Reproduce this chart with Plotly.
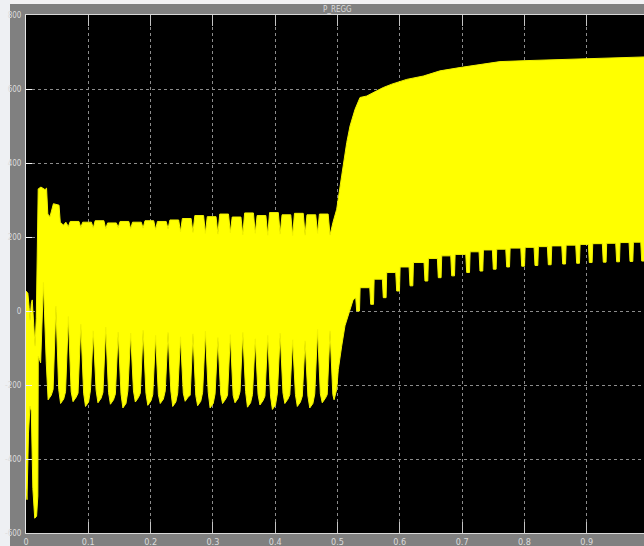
import plotly.graph_objects as go

TITLE = "P_REGG"

# axis ticks
x_ticks = [0, 0.1, 0.2, 0.3, 0.4, 0.5, 0.6, 0.7, 0.8, 0.9]
x_tick_text = ["0", "0.1", "0.2", "0.3", "0.4", "0.5", "0.6", "0.7", "0.8", "0.9"]
y_ticks = [-600, -400, -200, 0, 200, 400, 600, 800]
y_tick_text = ["-600", "-400", "-200", "0", "200", "400", "600", "800"]

# start-up transient: max / min envelope of the signal
early_upper_t = [0.000, 0.003, 0.005, 0.0065, 0.0085, 0.010, 0.0125, 0.0145, 0.0165, 0.0185,
                 0.0196, 0.024, 0.0305, 0.0330, 0.0350, 0.0385, 0.0440, 0.0530, 0.0550, 0.0600, 0.0640]
early_upper_v = [54, 48, 10, -25, 20, 30, -40, -95, -20, 200,
                 330, 335, 328, 332, 262, 255, 290, 286, 240, 232, 240]
early_lower_t = [0.000, 0.0016, 0.0040, 0.0064, 0.0085, 0.0110, 0.0140, 0.0170, 0.0190, 0.0197, 0.0215]
early_lower_v = [-480, -510, -330, -257, -270, -480, -560, -555, -500, -122, -130]

# first operating interval: one notch per cycle
tooth_t = [0.028, 0.048, 0.068, 0.088, 0.108, 0.128, 0.148, 0.168, 0.188, 0.208, 0.228, 0.248,
           0.268, 0.288, 0.308, 0.328, 0.348, 0.368, 0.388, 0.408, 0.428, 0.448, 0.468, 0.488]
tooth_tip = [77, 13, -15, -36, -54, -44, -57, -60, -52, -66, -58, -70,
             -62, -55, -72, -64, -58, -75, -66, -60, -78, -81, -50, -54]
tooth_foot = [-140, -212, -218, -222, -214, -220, -224, -216, -222, -226, -216, -222,
              -228, -220, -224, -228, -218, -226, -230, -222, -226, -230, -224, -226]
finger_floor = [-240, -250, -245, -258, -248, -252, -262, -246, -255, -250, -258, -244,
                -256, -262, -250, -248, -260, -254, -266, -250, -258, -262, -248]
ripple_dip = [228, 226, 224, 222, 226, 222, 224, 220, 222,
              214, 212, 210, 208, 212, 206, 210, 205, 208, 204, 205, 210, 205]
ripple_peak = [242, 240, 244, 238, 242, 240, 244, 242, 246,
               250, 258, 255, 262, 254, 265, 258, 266, 260, 264, 260, 262]

# step change near t = 0.5
rise_upper_t = [0.4928, 0.4987, 0.5067, 0.5148, 0.5201, 0.5281, 0.5361, 0.5469, 0.5629, 0.5735, 0.5870,
                0.6111, 0.6377, 0.6645, 0.6966, 0.7287, 0.7608, 0.8090, 0.8570, 0.9210, 1.000]
rise_upper_v = [240, 275, 365, 455, 500, 545, 577, 581, 595, 604, 613,
                626, 635, 649, 658, 667, 674, 677, 680, 683, 687]
rise_lower_t = [0.4945, 0.4987, 0.5013, 0.5067, 0.5120, 0.5201, 0.5250, 0.5285]
rise_lower_v = [-240, -212, -158, -95, -40, 5, 30, 35]

# second operating interval: notches on the lower edge
finger_t = [0.5308, 0.5533, 0.5735, 0.5950, 0.6164, 0.6404, 0.6618, 0.6833, 0.7074, 0.7287, 0.7501,
            0.7716, 0.7957, 0.8170, 0.8384, 0.8615, 0.8839, 0.9042, 0.9266, 0.9481, 0.9695, 0.9883]
finger_low = [0, 18, 36, 54, 68, 81, 90, 95, 104, 108, 113,
              119, 121, 123, 125, 127, 129, 131, 132, 133, 134, 135]
plateau = [63, 86, 104, 119, 131, 142, 149, 153, 160, 165, 167,
           170, 172, 174, 176, 178, 180, 182, 183, 185, 186, 187]

# notch geometry (seconds)
TOOTH_HALF = 0.0045
FLOOR_HALF = 0.0025
RIPPLE_EDGE = 0.003
FINGER_LEAD = 0.0015
FINGER_W = 0.0045

# ---- upper envelope ----
ux, uy = list(early_upper_t), list(early_upper_v)
for i, k in enumerate(range(2, len(tooth_t))):
    ux.append(tooth_t[k]); uy.append(ripple_dip[i])
    if i < len(ripple_peak):
        ux += [tooth_t[k] + RIPPLE_EDGE, tooth_t[k + 1] - RIPPLE_EDGE]
        uy += [ripple_peak[i], ripple_peak[i]]
ux += rise_upper_t
uy += rise_upper_v

# ---- lower envelope ----
lx, ly = list(early_lower_t), list(early_lower_v)
for k, t in enumerate(tooth_t):
    lx += [t - TOOTH_HALF, t, t + TOOTH_HALF]
    ly += [tooth_foot[k], tooth_tip[k], tooth_foot[k]]
    if k < len(finger_floor):
        mid = (t + tooth_t[k + 1]) / 2
        lx += [mid - FLOOR_HALF, mid + FLOOR_HALF]
        ly += [finger_floor[k], finger_floor[k] + 12]
lx += rise_lower_t
ly += rise_lower_v
prev = rise_lower_v[-1]
for j, t in enumerate(finger_t):
    lx += [t - FINGER_LEAD, t, t + FINGER_W, t + FINGER_W + 0.001]
    ly += [prev, finger_low[j], finger_low[j], plateau[j]]
    prev = plateau[j]
lx.append(1.0)
ly.append(plateau[-1])

poly_x = ux + lx[::-1]
poly_y = uy + ly[::-1]

fig = go.Figure()
fig.add_trace(go.Scatter(
    x=poly_x, y=poly_y, mode="lines", fill="toself",
    fillcolor="#ffff00", line=dict(color="#f2f200", width=1),
    hoverinfo="skip", showlegend=False,
))

W, H = 644, 546
L, R, T, B = 26, 0, 15, 13
PW, PH = W - L - R, H - T - B


def px(xp):
    return (xp - L) / PW


def py(yp):
    return (H - B - yp) / PH


GRAY = "#808080"
FONT = "Liberation Sans Narrow, DejaVu Sans Condensed, sans-serif"

fig.update_layout(
    width=W, height=H,
    margin=dict(l=L, r=R, t=T, b=B, pad=0),
    paper_bgcolor=GRAY, plot_bgcolor="#000000",
    showlegend=False,
    shapes=[
        dict(type="rect", xref="paper", yref="paper", x0=px(0), x1=px(W), y0=py(4), y1=py(0),
             fillcolor="#f3f2f4", line=dict(width=0), layer="below"),
        dict(type="rect", xref="paper", yref="paper", x0=px(0), x1=px(10), y0=py(H), y1=py(0),
             fillcolor="#eef0f3", line=dict(width=0), layer="below"),
    ],
    annotations=[
        dict(text=TITLE, xref="x", yref="paper", x=0.5, y=py(9), showarrow=False,
             xanchor="center", yanchor="middle",
             font=dict(family=FONT, size=8, color="#dcdcdc")),
    ],
)

fig.update_xaxes(
    range=[0, (W - L) / 623], tickvals=x_ticks, ticktext=x_tick_text,
    showgrid=True, gridcolor="#8c8c8c", griddash="dot", gridwidth=1,
    zeroline=False, showline=True, linecolor="#d8d8d8", linewidth=1,
    ticks="inside", ticklen=11, tickcolor="#c4c4c4", tickwidth=1, mirror="ticks",
    tickfont=dict(family=FONT, size=9, color="#dcdcdc"), automargin=False, fixedrange=True,
)
fig.update_yaxes(
    range=[-600, 800], tickvals=y_ticks, ticktext=y_tick_text,
    showgrid=True, gridcolor="#8c8c8c", griddash="dot", gridwidth=1,
    zeroline=False, showline=True, linecolor="#e6e6e6", linewidth=1,
    ticks="inside", ticklen=6, tickcolor="#f4f4f4", tickwidth=1, mirror=False,
    tickfont=dict(family=FONT, size=8, color="#dcdcdc"), ticklabelstandoff=2,
    automargin=False, fixedrange=True,
)

fig.write_html("out.html", config={"displayModeBar": False})
